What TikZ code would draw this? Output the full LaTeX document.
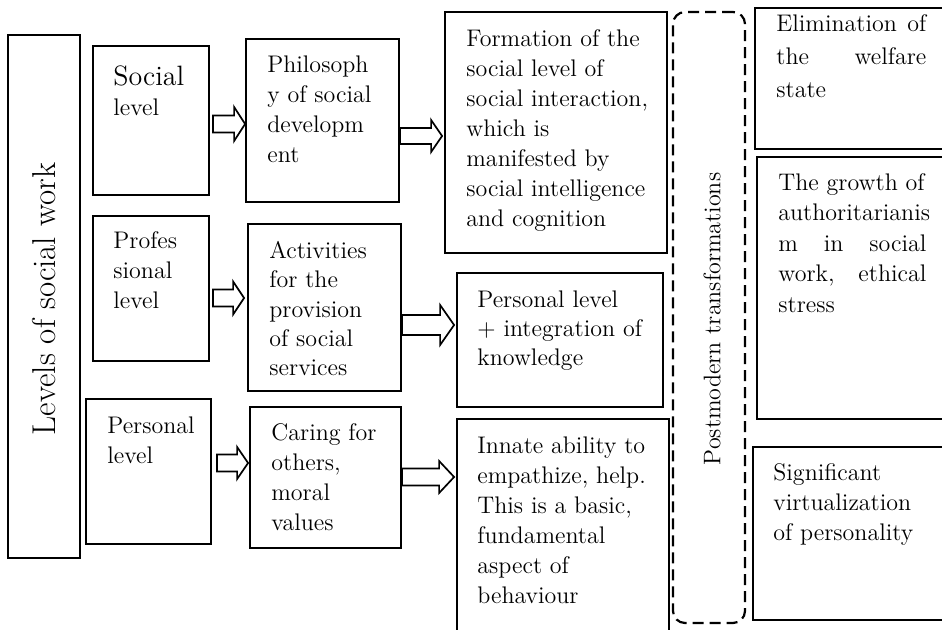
\documentclass[tikz,border=0pt]{standalone}
\usepackage{fontspec}
\usetikzlibrary{calc,fit}
\newcommand\tb{\rule{0pt}{10pt}}
\newcommand\blockarrow[8]{%
  \coordinate (bs) at ($(#1.east |- #3)+(#4,0)$);
  \coordinate (be) at ($(#2.west |- #3)+(-#5,0)$);
  \draw[barrow] ($(bs)+(0,#6)$) -- ($(be)+(-#8,#6)$) -- ($(be)+(-#8,#7)$) -- (be)
     -- ($(be)+(-#8,-#7)$) -- ($(be)+(-#8,-#6)$) -- ($(bs)+(0,-#6)$) -- cycle;}
\tikzset{
  box/.style={draw, line width=0.9pt, inner sep=0pt},
  dbox/.style={draw, line width=1.1pt, inner sep=0pt, dash pattern=on 5.5pt off 3pt, rounded corners=6pt},
  txt/.style={anchor=north west, inner sep=0pt, align=left, font=\fontsize{12}{15}\selectfont},
  barrow/.style={draw, fill=white, line width=0.85pt, line join=miter},
  vlabel/.style={rotate=90, inner sep=0pt}
}
\begin{document}
\begin{tikzpicture}[x=0.5pt,y=-0.5pt]
\useasboundingbox (0,0) rectangle (942,630);
\clip (0,0) rectangle (942,630);
% left column
\node[box, fit={(8,35) (80,558)}] (lvl) {};
\node[vlabel, font=\fontsize{16.5}{19}\selectfont] (lvlt) at (44,299) {Levels of social work};
\node[box, fit={(93,46) (209,195)}] (soc) {};
\node[box, fit={(93,216) (209,361)}] (prof) {};
\node[box, fit={(86,399) (211,544)}] (pers) {};
\node[txt] (soct) at (113,65) {\tb{\fontsize{14}{15}\selectfont Social}\\level};
\node[txt] (proft) at (113,228) {\tb Profes\\sional\\level};
\node[txt] (perst) at (107,413) {\tb Personal\\level};
% second column
\node[box, fit={(246,39) (399,202)}] (phil) {};
\node[box, fit={(248,224) (401,391)}] (act) {};
\node[box, fit={(250,407) (401,548)}] (car) {};
\node[txt] (philt) at (267,52) {\tb Philosoph\\y of social\\developm\\ent};
\node[txt, font=\fontsize{12}{14.7}\selectfont] (actt) at (269,238) {\tb Activities\\for the\\provision\\of social\\services};
\node[txt] (cart) at (271,420) {\tb Caring for\\others,\\moral\\values};
% third column
\node[box, fit={(445,12) (667,253)}] (form) {};
\node[box, fit={(457,273) (663,407)}] (plev) {};
\node[box, fit={(457,419) (669,660)}] (inn) {};
\node[txt] (formt) at (466,26) {\tb Formation of the\\social level of\\social interaction,\\which is\\manifested by\\social intelligence\\and cognition};
\node[txt, font=\fontsize{12}{14.5}\selectfont] (plevt) at (477,287) {\tb Personal level\\+ integration of\\knowledge};
\node[txt] (innt) at (477,433) {\tb Innate ability to\\empathize, help.\\This is a basic,\\fundamental\\aspect of\\behaviour};
% dashed column
\node[dbox, fit={(673,12) (745,623)}] (post) {};
\node[vlabel, font=\fontsize{12}{14}\selectfont] (postt) at (712,319) {Postmodern transformations};
% right column
\node[box, fit={(755,8) (980,149)}] (elim) {};
\node[box, fit={(757,157) (980,419)}] (grow) {};
\node[box, fit={(753,447) (980,620)}] (sig) {};
\node[txt, font=\fontsize{12}{16.5}\selectfont] (elimt) at (776,11) {\tb\makebox[75pt][s]{Elimination of}\\\makebox[75pt][s]{the welfare}\\state};
\node[txt, font=\fontsize{12}{15.25}\selectfont] (growt) at (778,170) {\tb The growth of\\authoritarianis\\\makebox[74pt][s]{m in social}\\\makebox[74pt][s]{work, ethical}\\stress};
\node[txt] (sigt) at (773,460) {\tb Significant\\virtualization\\of personality};
% rows for the block arrows
\coordinate (r1) at (0,124);
\coordinate (r2) at (0,298);
\coordinate (r3) at (0,463);
\coordinate (r4) at (0,136);
\coordinate (r5) at (0,325);
\coordinate (r6) at (0,477);
\blockarrow{soc}{phil}{r1}{3}{0}{8.5}{17}{11}
\blockarrow{prof}{act}{r2}{3}{3}{8.5}{16.5}{11}
\blockarrow{pers}{car}{r3}{5}{1}{8.5}{16}{11}
\blockarrow{phil}{form}{r4}{0}{2}{8}{16}{11}
\blockarrow{act}{plev}{r5}{0}{2}{10}{20}{14}
\blockarrow{car}{inn}{r6}{0}{2}{8.5}{16}{15}
\end{tikzpicture}
\end{document}
